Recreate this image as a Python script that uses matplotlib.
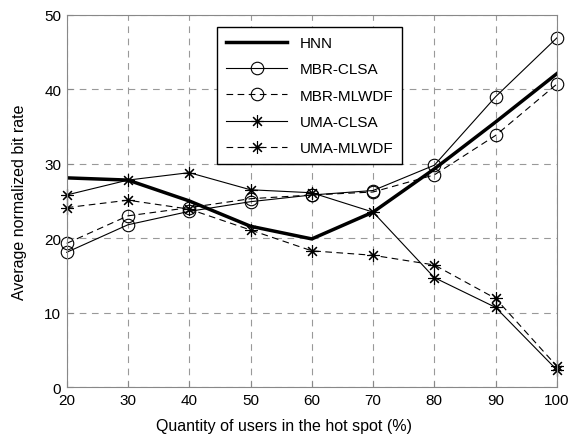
import matplotlib.pyplot as plt

plt.rcParams['font.family'] = ['Liberation Sans', 'DejaVu Sans']

users = [20, 30, 40, 50, 60, 70, 80, 90, 100]
hnn = [28.1, 27.8, 25.0, 21.6, 19.9, 23.5, 29.3, 35.6, 42.1]
mbr_clsa = [18.1, 21.8, 23.6, 24.9, 25.8, 26.4, 29.8, 39.0, 46.9]
mbr_mlwdf = [19.3, 23.0, 24.1, 25.3, 25.8, 26.2, 28.5, 33.8, 40.7]
uma_clsa = [25.8, 27.8, 28.8, 26.5, 26.1, 23.5, 14.7, 10.7, 2.3]
uma_mlwdf = [24.1, 25.1, 23.9, 21.1, 18.3, 17.7, 16.4, 11.9, 2.8]

# eight-armed asterisk, like the classic '*' marker
star = (8, 2, 0)

fig = plt.figure(figsize=(5.7, 4.39), dpi=100)
ax = fig.add_axes([0.117, 0.116, 0.860, 0.848])

ax.plot(users, hnn, color='black', linewidth=2.5, label='HNN')
ax.plot(users, mbr_clsa, color='black', linewidth=0.8, linestyle='-',
        marker='o', markersize=9, markerfacecolor='none', markeredgewidth=0.8,
        clip_on=False, label='MBR-CLSA')
ax.plot(users, mbr_mlwdf, color='black', linewidth=0.8, linestyle=(0, (6, 4)),
        marker='o', markersize=9, markerfacecolor='none', markeredgewidth=0.8,
        clip_on=False, label='MBR-MLWDF')
ax.plot(users, uma_clsa, color='black', linewidth=0.8, linestyle='-',
        marker=star, markersize=9, markeredgewidth=0.8, clip_on=False,
        label='UMA-CLSA')
ax.plot(users, uma_mlwdf, color='black', linewidth=0.8, linestyle=(0, (6, 4)),
        marker=star, markersize=9, markeredgewidth=0.8, clip_on=False,
        label='UMA-MLWDF')

ax.set_xlim(20, 100)
ax.set_ylim(0, 50)
ax.set_xticks(users)
ax.set_yticks([0, 10, 20, 30, 40, 50])
ax.grid(True, color='#999999', linestyle=(0, (6, 5)), linewidth=0.8)
ax.tick_params(direction='in', length=4, labelsize=11, color='#888888', pad=4)
for side in ax.spines.values():
    side.set_color('#888888')

ax.set_xlabel('Quantity of users in the hot spot (%)', fontsize=11.5)
ax.xaxis.set_label_coords(0.443, -0.083)
ax.set_ylabel('Average normalized bit rate', fontsize=11.5)
ax.yaxis.set_label_coords(-0.081, 0.5)

leg = ax.legend(loc='upper left', bbox_to_anchor=(0.307, 0.967), fontsize=11,
                handlelength=4.0, framealpha=1, fancybox=False,
                edgecolor='black', borderpad=0.6, labelspacing=0.8,
                borderaxespad=0)
leg.get_frame().set_linewidth(1.0)

fig.savefig('out.png', dpi=100)
